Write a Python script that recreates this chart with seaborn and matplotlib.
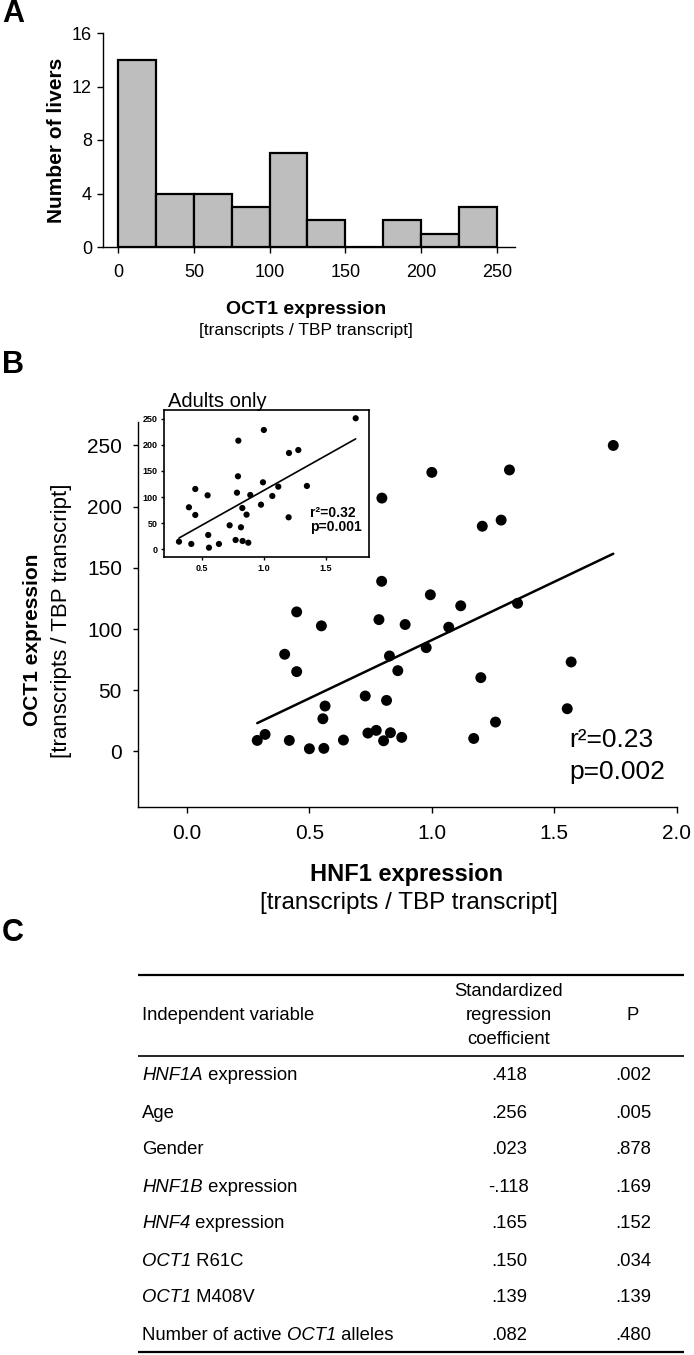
import matplotlib
matplotlib.use("Agg")
import matplotlib.pyplot as plt
import numpy as np
import seaborn as sns

# Panel A: number of livers per OCT1 expression bin
bin_edges = [0, 25, 50, 75, 100, 125, 150, 175, 200, 225, 250]
liver_counts = [14, 4, 4, 3, 7, 2, 0, 2, 1, 3]

# Panel B: HNF1 vs OCT1 expression, all livers
hnf1_all = [1.741, 1.000, 1.317, 0.796, 1.206, 1.283, 0.795, 0.994, 1.118, 1.350,
            0.448, 0.549, 0.784, 0.891, 1.069, 0.977, 0.827, 0.399, 0.448, 0.861,
            1.200, 1.569, 0.728, 0.815, 0.564, 0.555, 1.553, 1.260, 0.287, 0.319,
            0.418, 0.500, 0.559, 0.639, 0.739, 0.773, 0.803, 0.831, 0.877, 1.171]
oct1_all = [250, 228, 230, 207, 184, 189, 139, 128, 119, 121,
            114, 102.6, 107.7, 103.7, 101.5, 84.8, 78, 79.4, 65.2, 66,
            60.3, 73.1, 45.3, 41.7, 37.1, 26.7, 34.9, 24, 9, 13.9,
            9, 2.2, 2.5, 9.3, 15, 17.2, 8.7, 15.3, 11.5, 10.6]

# inset: adults only
hnf1_adult = [0.318, 0.417, 0.398, 0.449, 0.449, 0.548, 0.553, 0.559, 0.639, 0.725,
              0.773, 0.795, 0.792, 0.784, 0.827, 0.816, 0.829, 0.875, 0.861, 0.891,
              1.000, 0.993, 0.977, 1.068, 1.116, 1.202, 1.277, 1.199, 1.346, 1.738]
oct1_adult = [14.6, 10.2, 80.4, 115.4, 65.7, 103.3, 27.4, 3.1, 10.2, 45.9,
              17.8, 207.9, 139.7, 108.3, 79, 42.1, 15.9, 12.6, 66.3, 103.9,
              228.4, 128.2, 85.4, 102, 119.9, 184.3, 190, 61.2, 121.2, 250.8]

# Panel C: regression table (gene names between * are set in italics)
variables = ["*HNF1A* expression", "Age", "Gender", "*HNF1B* expression",
             "*HNF4* expression", "*OCT1* R61C", "*OCT1* M408V",
             "Number of active *OCT1* alleles"]
std_coef = [".418", ".256", ".023", "-.118", ".165", ".150", ".139", ".082"]
p_values = [".002", ".005", ".878", ".169", ".152", ".034", ".139", ".480"]

sns.set_style("ticks")
plt.rcParams["font.family"] = ["Liberation Sans", "DejaVu Sans"]
plt.rcParams["axes.linewidth"] = 1.0
plt.rcParams["text.color"] = "black"
plt.rcParams["axes.labelcolor"] = "black"
plt.rcParams["xtick.color"] = "black"
plt.rcParams["ytick.color"] = "black"
plt.rcParams["xtick.labelcolor"] = "black"
plt.rcParams["ytick.labelcolor"] = "black"
plt.rcParams["axes.edgecolor"] = "black"

W, H = 694, 1355
fig = plt.figure(figsize=(W / 100, H / 100), dpi=100)


def box(x0, y0, x1, y1):
    return [x0 / W, 1 - y1 / H, (x1 - x0) / W, (y1 - y0) / H]


def rich_text(ax, x, y, s, **kw):
    # alternate normal / italic pieces, chained one after the other
    prev = None
    for i, piece in enumerate(s.split("*")):
        if not piece:
            continue
        style = "italic" if i % 2 else "normal"
        if prev is None:
            prev = ax.text(x, y, piece, style=style, ha="left", va="center", **kw)
        else:
            prev = ax.annotate(piece, xy=(1, 0), xycoords=prev, style=style,
                               ha="left", va="bottom", **kw)


# ---- Panel A ----
axA = fig.add_axes(box(103, 33, 515, 247))
centers = [(a + b) / 2 for a, b in zip(bin_edges[:-1], bin_edges[1:])]
sns.histplot(x=centers, weights=liver_counts, bins=bin_edges, color="#bebebe",
             edgecolor="black", linewidth=1.6, alpha=1, ax=axA)
axA.set_xlim(-10, 262)
axA.set_ylim(0, 16)
axA.set_xticks(range(0, 251, 50))
axA.set_yticks(range(0, 17, 4))
axA.tick_params(axis="x", length=4.5, width=1, pad=8, labelsize=13)
axA.tick_params(axis="y", length=4, width=1, pad=4, labelsize=13)
axA.set_xlabel("")
axA.set_ylabel("")
sns.despine(ax=axA)
fig.text(57 / W, 1 - 140 / H, "Number of livers", fontsize=15, fontweight="bold",
         rotation=90, ha="center", va="center")
fig.text(306 / W, 1 - 310 / H, "OCT1 expression", fontsize=14, fontweight="bold",
         ha="center", va="center")
fig.text(306 / W, 1 - 331 / H, "[transcripts / TBP transcript]", fontsize=12.5,
         ha="center", va="center")

# ---- Panel B ----
axB = fig.add_axes(box(138, 421.7, 676.7, 807))
sns.scatterplot(x=hnf1_all, y=oct1_all, color="black", s=62, edgecolor="none",
                ax=axB)
sns.regplot(x=hnf1_all, y=oct1_all, scatter=False, ci=None, color="black",
            line_kws={"lw": 1.8}, ax=axB)
axB.set_xlim(-0.2, 2.0)
axB.set_ylim(-45.4, 269.4)
axB.set_xticks(np.arange(0, 2.01, 0.5))
axB.set_xticklabels([f"{v:.1f}" for v in np.arange(0, 2.01, 0.5)])
axB.set_yticks(range(0, 251, 50))
axB.tick_params(axis="x", length=4.5, width=1, pad=8, labelsize=15)
axB.tick_params(axis="y", length=3.5, width=1, pad=8, labelsize=15)
sns.despine(ax=axB)
axB.text(1.561, 9, "r\u00b2=0.23", fontsize=19, ha="left", va="center")
axB.text(1.561, -17, "p=0.002", fontsize=19, ha="left", va="center")

fig.text(407 / W, 1 - 875 / H, "HNF1 expression", fontsize=17, fontweight="bold",
         ha="center", va="center")
fig.text(409 / W, 1 - 903 / H, "[transcripts / TBP transcript]", fontsize=17.5,
         ha="center", va="center")
fig.text(33 / W, 1 - 640 / H, "OCT1 expression", fontsize=15, fontweight="bold",
         rotation=90, ha="center", va="center")
fig.text(62 / W, 1 - 621 / H, "[transcripts / TBP transcript]", fontsize=16,
         rotation=90, ha="center", va="center")

# inset
axI = fig.add_axes(box(164.3, 410, 369, 556.7))
axI.set_facecolor("white")
sns.scatterplot(x=hnf1_adult, y=oct1_adult, color="black", s=20, edgecolor="none",
                ax=axI)
sns.regplot(x=hnf1_adult, y=oct1_adult, scatter=False, ci=None, color="black",
            line_kws={"lw": 1.2}, ax=axI)
axI.set_xlim(0.2, 1.845)
axI.set_ylim(-14.2, 266.6)
axI.set_xticks([0.5, 1.0, 1.5])
axI.set_xticklabels(["0.5", "1.0", "1.5"])
axI.set_yticks(range(0, 251, 50))
axI.tick_params(length=2, width=1, pad=3, labelsize=6.5)
for lab in axI.get_xticklabels() + axI.get_yticklabels():
    lab.set_fontweight("bold")
for sp in axI.spines.values():
    sp.set_linewidth(1.2)
axI.text(0.018, 1.06, "Adults only", transform=axI.transAxes, fontsize=14.5,
         ha="left", va="center")
axI.text(1.371, 69.5, "r\u00b2=0.32", fontsize=10, fontweight="bold",
         ha="left", va="center")
axI.text(1.371, 42.7, "p=0.001", fontsize=10, fontweight="bold",
         ha="left", va="center")

# ---- Panel C: table ----
axC = fig.add_axes([0, 0, 1, 395 / H])
axC.set_xlim(0, W)
axC.set_ylim(H, 960)
axC.axis("off")
axC.hlines([975, 1352], 138, 684, color="black", lw=1.6)
axC.hlines([1056], 138, 684, color="black", lw=1.2)
fs = 13.3
axC.text(142, 1016, "Independent variable", fontsize=fs, ha="left", va="center")
for y, word in zip([991, 1016, 1040], ["Standardized", "regression", "coefficient"]):
    axC.text(509, y, word, fontsize=fs, ha="center", va="center")
axC.text(633, 1016, "P", fontsize=fs, ha="center", va="center")
row_y = [1076 + 37 * i for i in range(len(variables))]
for y, var, coef, p in zip(row_y, variables, std_coef, p_values):
    rich_text(axC, 142, y, var, fontsize=fs)
    axC.text(509, y, coef, fontsize=fs, ha="center", va="center")
    axC.text(633, y, p, fontsize=fs, ha="center", va="center")

# panel letters
for letter, y in [("A", 14), ("B", 365), ("C", 933)]:
    fig.text(2 / W, 1 - y / H, letter, fontsize=22, fontweight="bold",
             ha="left", va="center")

fig.savefig("out.png", dpi=100)
